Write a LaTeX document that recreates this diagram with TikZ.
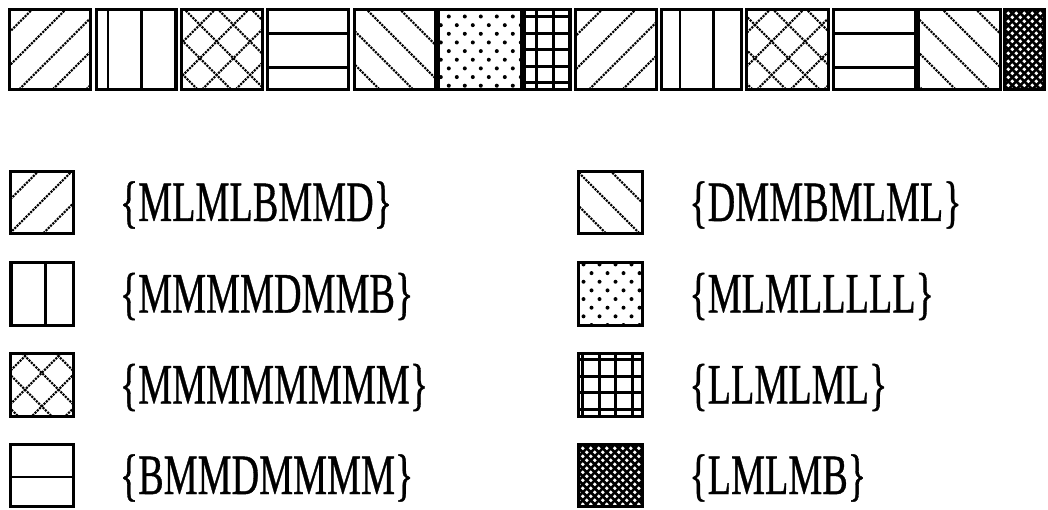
\documentclass[tikz,border=0pt]{standalone}
\usepackage{fontspec}
\setmainfont{Liberation Serif}
\newfontfamily\keyfont[FakeBold=0.8]{Liberation Serif}
\usepackage{graphicx}
\usetikzlibrary{positioning}

% fills, in local coordinates from the cell's top-left corner (y runs down)
\newcommand\hatchNE[2]{%
  \begin{scope}
    \clip (#1.north west) rectangle (#1.south east);
    \begin{scope}[shift={(#1.north west)}]
      \foreach \k in {0,...,5} \draw[beads] ({#2+33.5*\k},0) -- ++(-120,120);
    \end{scope}
  \end{scope}}
\newcommand\hatchNW[2]{%
  \begin{scope}
    \clip (#1.north west) rectangle (#1.south east);
    \begin{scope}[shift={(#1.north west)}]
      \foreach \k in {0,...,6} \draw[beads] ({#2+33.5*\k},0) -- ++(120,120);
    \end{scope}
  \end{scope}}
\newcommand\hatchV[2]{%
  \begin{scope}
    \clip (#1.north west) rectangle (#1.south east);
    \begin{scope}[shift={(#1.north west)}]
      \foreach \k in {0,...,3} \draw[bar] ({#2+33.5*\k},-5) -- ++(0,100);
    \end{scope}
  \end{scope}}
\newcommand\hatchH[2]{%
  \begin{scope}
    \clip (#1.north west) rectangle (#1.south east);
    \begin{scope}[shift={(#1.north west)}]
      \foreach \k in {0,...,3} \draw[bar] (-5,{#2+33.5*\k}) -- ++(100,0);
    \end{scope}
  \end{scope}}
\newcommand\gridpat[3]{%
  \begin{scope}
    \clip (#1.north west) rectangle (#1.south east);
    \begin{scope}[shift={(#1.north west)}]
      \foreach \k in {0,...,4} {
        \draw[mesh] ({#2+16.5*\k},-5) -- ++(0,100);
        \draw[mesh] (-5,{#3+16.5*\k}) -- ++(100,0);
      }
    \end{scope}
  \end{scope}}
\newcommand\dotspat[3]{%
  \begin{scope}
    \clip (#1.north west) rectangle (#1.south east);
    \begin{scope}[shift={(#1.north west)}]
      \foreach \j in {-1,...,10} \foreach \i in {-1,...,5}
        \fill ({#2+16*\i+8*mod(\j,2)},{#3+8.65*\j}) circle (2);
    \end{scope}
  \end{scope}}
\newcommand\densepat[1]{%
  \begin{scope}
    \clip (#1.north west) rectangle (#1.south east);
    \fill (#1.north west) rectangle (#1.south east);
    \begin{scope}[shift={(#1.north west)}]
      \foreach \j in {0,...,20} \foreach \i in {0,...,8}
        \fill[white] ({8*\i+4*mod(\j,2)},{4*\j}) circle (1.9);
    \end{scope}
  \end{scope}}

\begin{document}
\begin{tikzpicture}[x=1pt, y=-1pt,
    cell/.style={inner sep=0pt, minimum height=80pt},
    key/.style={inner sep=0pt, minimum width=63pt, minimum height=62pt},
    frame/.style={line width=3pt},
    beads/.style={line width=3pt, line cap=round, dash pattern=on 0pt off 3.2pt},
    bar/.style={line width=2.6pt},
    mesh/.style={line width=3.2pt},
    code/.style={inner sep=0pt, text height=37pt, text depth=0pt,
      font=\keyfont\fontsize{57}{60}\selectfont}]
  \useasboundingbox (0,0) rectangle (1048,510);

  % strip of cells
  \node[cell, minimum width=81pt] (t1) at (50,49.5) {};
  \node[cell, minimum width=80pt] (t2) at (136.5,49.5) {};
  \node[cell, minimum width=81pt] (t3) at (222,49.5) {};
  \node[cell, minimum width=81pt] (t4) at (308,49.5) {};
  \node[cell, minimum width=81pt] (t5) at (395,49.5) {};
  \node[cell, minimum width=83pt] (t6) at (480,49.5) {};
  \node[cell, minimum width=46pt] (t7) at (547.5,49.5) {};
  \node[cell, minimum width=81pt] (t8) at (616,49.5) {};
  \node[cell, minimum width=80pt] (t9) at (701.5,49.5) {};
  \node[cell, minimum width=82pt] (t10) at (787.5,49.5) {};
  \node[cell, minimum width=82pt] (t11) at (874.5,49.5) {};
  \node[cell, minimum width=82pt] (t12) at (959.5,49.5) {};
  \node[cell, minimum width=40pt] (t13) at (1024.5,49.5) {};

  \hatchNE{t1}{23}
  \hatchV{t2}{11.5}
  \hatchNE{t3}{0.5} \hatchNW{t3}{-97.5}
  \hatchH{t4}{24.5}
  \hatchNW{t5}{-88.5}
  \dotspat{t6}{10.5}{7.2}
  \gridpat{t7}{12.5}{7.5}
  \hatchNE{t8}{27}
  \hatchV{t9}{18.5}
  \hatchNE{t10}{24} \hatchNW{t10}{-107.5}
  \hatchH{t11}{24.5}
  \hatchNW{t12}{-110}
  \densepat{t13}
  \foreach \n in {1,...,13} \draw[frame] (t\n.north west) rectangle (t\n.south east);

  % key
  \node[key] (k1) at (42,202.5) {};
  \node[key] (k2) at (42,294) {};
  \node[key] (k3) at (42,385) {};
  \node[key] (k4) at (42,475.5) {};
  \node[key] (r1) at (610.5,202.5) {};
  \node[key] (r2) at (610.5,294) {};
  \node[key] (r3) at (610.5,385) {};
  \node[key] (r4) at (610.5,475.5) {};

  \hatchNE{k1}{28}
  \hatchV{k2}{1.5}
  \hatchNE{k3}{17} \hatchNW{k3}{-121.5}
  \hatchH{k4}{-1}
  \hatchNW{r1}{-135.5}
  \dotspat{r2}{12.7}{10.3}
  \gridpat{r3}{4}{6}
  \densepat{r4}
  \foreach \b in {k1,k2,k3,k4,r1,r2,r3,r4}
    \draw[frame] (\b.north west) rectangle (\b.south east);

  \node[code, right=46pt of k1] (l1) {\scalebox{0.67}[1]{\{MLMLBMMD\}}};
  \node[code, right=46pt of k2] (l2) {\scalebox{0.67}[1]{\{MMMMDMMB\}}};
  \node[code, right=46pt of k3] (l3) {\scalebox{0.67}[1]{\{MMMMMMMM\}}};
  \node[code, right=46pt of k4] (l4) {\scalebox{0.67}[1]{\{BMMDMMMM\}}};
  \node[code, right=47pt of r1] (l5) {\scalebox{0.67}[1]{\{DMMBMLML\}}};
  \node[code, right=47pt of r2] (l6) {\scalebox{0.67}[1]{\{MLMLLLLL\}}};
  \node[code, right=47pt of r3] (l7) {\scalebox{0.67}[1]{\{LLMLML\}}};
  \node[code, right=47pt of r4] (l8) {\scalebox{0.67}[1]{\{LMLMB\}}};
\end{tikzpicture}
\end{document}
